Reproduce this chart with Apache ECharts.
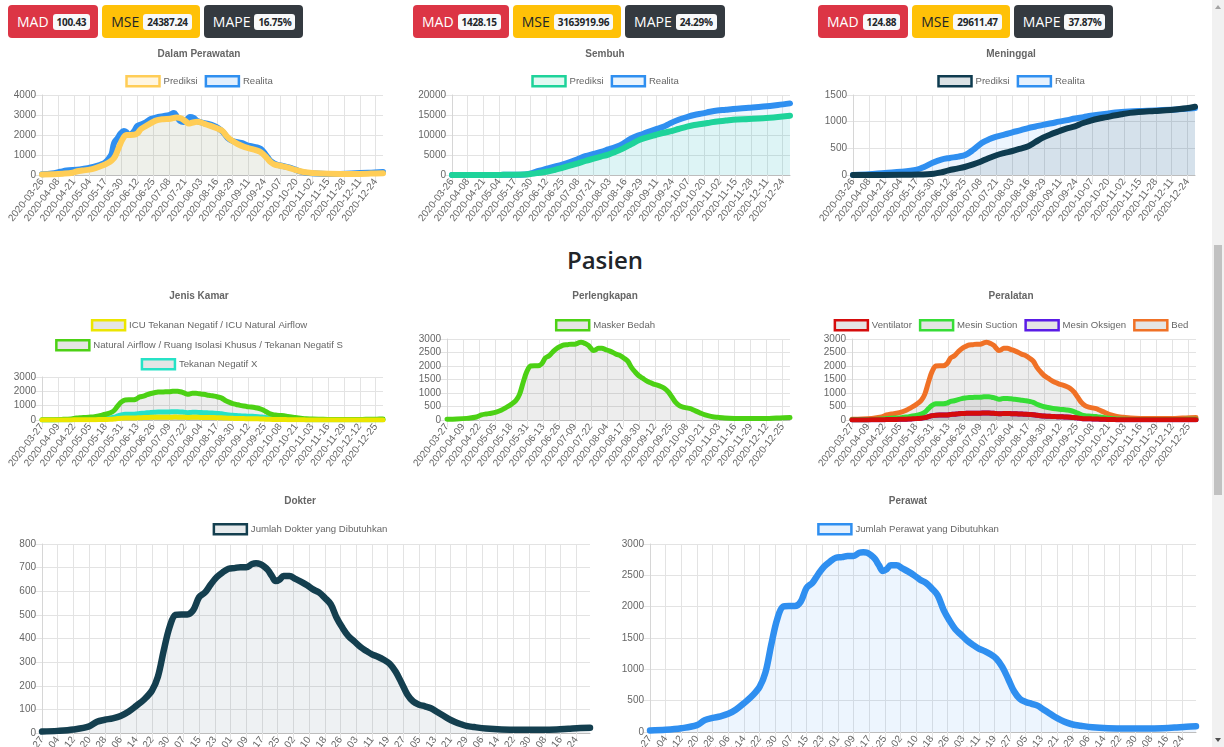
<!DOCTYPE html>
<html>
<head>
<meta charset="utf-8" />
<title>Prediksi Pasien</title>
<script src="https://cdn.jsdelivr.net/npm/echarts/dist/echarts.min.js"></script>
<style>
  body { margin: 0; width: 1224px; height: 747px; overflow: hidden; background: #fff; position: relative; font-family: "Open Sans", sans-serif; }
  .grp { position: absolute; top: 5px; display: flex; }
  .btn { height: 33px; box-sizing: border-box; padding: 0 8px 0 9px; margin-right: 4px; border-radius: 4px; display: flex; align-items: center; font-size: 14px; }
  .btn span { margin-left: 4px; background: #f8f9fa; color: #212529; font-weight: 700; font-size: 10px; line-height: 12px; padding: 2px 4px; border-radius: 3px; letter-spacing: -0.3px; }
  .red { background: #dc3545; color: #fff; }
  .yel { background: #ffc107; color: #212529; }
  .drk { background: #343a40; color: #fff; }
  .chart { position: absolute; }
  #judul { position: absolute; left: 0; top: 243px; width: 1210px; text-align: center; font-size: 24px; font-weight: 600; color: #212529; }
  #scroll { position: absolute; left: 1212px; top: 0; width: 12px; height: 747px; background: #f1f1f1; }
  #thumb { position: absolute; left: 2px; top: 245px; width: 8px; height: 250px; background: #c1c1c1; }
  .panah { position: absolute; left: 3px; width: 0; height: 0; border-left: 3px solid transparent; border-right: 3px solid transparent; }
</style>
</head>
<body>
<div class="grp" style="left:8px">
  <div class="btn red">MAD<span>100.43</span></div>
  <div class="btn yel">MSE<span>24387.24</span></div>
  <div class="btn drk">MAPE<span>16.75%</span></div>
</div>
<div class="grp" style="left:413px">
  <div class="btn red">MAD<span>1428.15</span></div>
  <div class="btn yel">MSE<span>3163919.96</span></div>
  <div class="btn drk">MAPE<span>24.29%</span></div>
</div>
<div class="grp" style="left:818px">
  <div class="btn red">MAD<span>124.88</span></div>
  <div class="btn yel">MSE<span>29611.47</span></div>
  <div class="btn drk">MAPE<span>37.87%</span></div>
</div>
<div id="judul">Pasien</div>

<div id="c1" class="chart" style="left:0px;top:44px;width:398px;height:200px"></div>
<div id="c2" class="chart" style="left:406px;top:44px;width:398px;height:200px"></div>
<div id="c3" class="chart" style="left:812px;top:44px;width:398px;height:200px"></div>
<div id="c4" class="chart" style="left:0px;top:285px;width:398px;height:200px"></div>
<div id="c5" class="chart" style="left:406px;top:285px;width:398px;height:200px"></div>
<div id="c6" class="chart" style="left:812px;top:285px;width:398px;height:200px"></div>
<div id="c7" class="chart" style="left:0px;top:490px;width:600px;height:320px"></div>
<div id="c8" class="chart" style="left:612px;top:490px;width:592px;height:320px"></div>
<div id="scroll">
  <div class="panah" style="top:5px;border-bottom:4px solid #a3a3a3"></div>
  <div id="thumb"></div>
  <div class="panah" style="top:738px;border-top:4px solid #505050"></div>
</div>

<script type="text/javascript">
  var F = "Liberation Sans, Arial, sans-serif";

  // hari ke- (indeks dari tanggal awal) untuk titik yang dibaca
  var hariRS = [0,8,16,24,28,32,36,40,44,48,52,56,59,62,65,68,71,74,77,80,83,86,89,92,95,98,101,104,107,109,111,113,115,117,119,121,123,126,129,132,135,138,141,144,147,150,153,156,159,162,165,168,171,174,177,180,183,186,189,192,195,198,201,204,207,210,213,216,220,226,234,244,254,262,268,274,279];

  var perawat = [25,35,60,110,190,225,250,290,360,460,570,720,950,1400,1800,2000,2010,2010,2080,2300,2380,2520,2640,2720,2780,2790,2810,2810,2860,2870,2860,2820,2760,2660,2570,2600,2660,2660,2610,2560,2500,2430,2380,2290,2180,1950,1780,1640,1550,1460,1390,1330,1290,1240,1170,1040,850,650,530,480,450,420,360,300,240,190,150,120,100,75,60,55,55,60,70,85,90];
  var dokter = [6,9,15,28,48,56,62,72,90,115,142,180,238,350,450,500,502,502,520,575,595,630,660,680,695,698,702,702,715,718,715,705,690,665,643,650,665,665,652,640,625,608,595,572,545,488,445,410,388,365,348,333,323,310,293,260,213,163,133,120,113,105,90,75,60,48,38,30,25,19,15,14,14,15,18,21,22];
  var maskerBedah = [25,35,60,110,190,225,250,290,360,460,570,720,950,1400,1800,2000,2010,2010,2080,2300,2380,2520,2640,2720,2780,2790,2810,2810,2860,2880,2860,2820,2760,2660,2570,2600,2660,2660,2610,2560,2500,2430,2380,2290,2180,1950,1780,1640,1550,1460,1390,1330,1290,1240,1170,1040,850,650,530,480,450,420,360,300,240,190,150,120,100,75,60,55,55,60,70,85,90];
  var bed = [25,35,60,110,190,225,250,290,360,460,570,720,950,1400,1800,2000,2010,2010,2080,2300,2380,2520,2640,2720,2780,2790,2810,2810,2860,2880,2860,2820,2760,2660,2570,2600,2660,2660,2610,2560,2500,2430,2380,2290,2180,1950,1780,1640,1550,1460,1390,1330,1290,1240,1170,1040,850,650,530,480,450,420,360,300,240,190,150,120,100,75,60,55,55,60,70,85,90];
  var mesinSuction = [8,10,18,33,57,68,75,87,108,138,171,216,285,420,540,600,603,603,624,690,714,756,792,816,834,837,843,843,858,861,858,846,828,798,771,780,798,798,783,768,750,729,714,687,654,585,534,492,465,438,417,399,387,372,351,312,255,195,159,144,135,126,108,90,72,57,45,36,30,23,18,17,17,18,21,26,27];
  var ventilator = [2,3,5,10,17,20,23,26,32,41,51,65,86,126,162,180,181,181,187,207,214,227,238,245,250,251,253,253,257,258,257,254,248,239,231,234,239,239,235,230,225,219,214,206,196,176,160,148,140,131,125,120,116,112,105,94,77,59,48,43,41,38,32,27,22,17,14,11,9,7,5,5,5,5,6,8,8];
  var mesinOksigen = [2,3,5,10,17,20,23,26,32,41,51,65,86,126,162,180,181,181,187,207,214,227,238,245,250,251,253,253,257,258,257,254,248,239,231,234,239,239,235,230,225,219,214,206,196,176,160,148,140,131,125,120,116,112,105,94,77,59,48,43,41,38,32,27,22,17,14,11,9,7,5,5,5,5,6,8,8];
  var naturalAirflow = [18,25,42,77,133,158,175,203,252,322,399,504,665,980,1260,1400,1407,1407,1456,1610,1666,1764,1848,1904,1946,1953,1967,1967,2002,2009,2002,1974,1932,1862,1799,1820,1862,1862,1827,1792,1750,1701,1666,1603,1526,1365,1246,1148,1085,1022,973,931,903,868,819,728,595,455,371,336,315,294,252,210,168,133,105,84,70,53,42,39,39,42,49,60,63];
  var tekananX = [5,7,12,22,38,45,50,58,72,92,114,144,190,280,360,400,402,402,416,460,476,504,528,544,556,558,562,562,572,574,572,564,552,532,514,520,532,532,522,512,500,486,476,458,436,390,356,328,310,292,278,266,258,248,234,208,170,130,106,96,90,84,72,60,48,38,30,24,20,15,12,11,11,12,14,17,18];
  var icu = [2,2,4,8,13,16,18,20,25,32,40,50,67,98,126,140,141,141,146,161,167,176,185,190,195,195,197,197,200,201,200,197,193,186,180,182,186,186,183,179,175,170,167,160,153,137,125,115,109,102,97,93,90,87,82,73,60,46,37,34,32,29,25,21,17,13,11,8,7,5,4,4,4,4,5,6,6];

  // [hari ke-, nilai]
  var dalamPrediksi = [[0,30],[9,40],[17,65],[25,115],[29,190],[33,225],[41,290],[49,460],[53,570],[57,720],[60,950],[63,1400],[66,1800],[69,2000],[75,2010],[78,2080],[81,2300],[87,2520],[93,2720],[99,2790],[105,2810],[110,2870],[114,2820],[118,2660],[120,2570],[122,2600],[127,2660],[133,2560],[139,2430],[145,2290],[148,2180],[151,1950],[154,1780],[160,1550],[166,1390],[172,1290],[178,1170],[181,1040],[184,850],[187,650],[190,530],[196,450],[202,360],[208,240],[214,150],[221,100],[235,60],[255,55],[269,70],[279,90]];
  var dalamRealita = [[0,40],[8,80],[15,160],[20,220],[31,280],[42,400],[51,600],[55,850],[57,1050],[59,1600],[62,1850],[64,2050],[67,2200],[69,2150],[71,2000],[74,2100],[76,2250],[78,2450],[84,2600],[89,2800],[95,2900],[100,2950],[104,3000],[108,3100],[110,2950],[113,2700],[116,2650],[119,2800],[121,2900],[124,2850],[127,2700],[132,2600],[136,2550],[141,2450],[144,2350],[148,2150],[152,1850],[156,1700],[163,1600],[170,1450],[176,1380],[179,1300],[182,1100],[185,850],[188,650],[192,520],[197,450],[204,350],[210,200],[215,120],[223,80],[240,50],[253,80],[267,110],[279,150]];
  var sembuhPrediksi = [[0,0],[40,30],[60,120],[66,300],[72,550],[78,800],[85,1300],[91,1800],[98,2400],[104,2900],[110,3500],[117,4100],[123,4600],[129,5100],[135,5800],[141,6600],[148,7700],[155,8800],[161,9400],[168,10000],[174,10500],[180,10900],[187,11500],[194,12100],[200,12500],[207,12800],[213,13100],[219,13400],[226,13600],[232,13800],[245,14000],[257,14200],[269,14500],[279,14800]];
  var sembuhRealita = [[0,0],[40,30],[60,150],[65,400],[70,900],[75,1300],[80,1700],[86,2200],[91,2600],[98,3300],[104,4000],[110,4700],[117,5300],[123,5800],[129,6400],[135,7000],[141,7800],[147,9000],[152,9700],[158,10300],[164,11000],[170,11600],[175,12100],[180,12900],[187,13800],[194,14500],[200,15000],[207,15400],[213,15800],[219,16100],[226,16300],[232,16500],[245,16800],[257,17100],[269,17500],[279,17900]];
  var meninggalPrediksi = [[0,0],[40,3],[53,8],[66,25],[72,50],[78,87],[85,120],[91,150],[98,200],[104,250],[110,310],[117,370],[123,410],[130,450],[136,490],[143,540],[149,620],[155,700],[161,760],[168,820],[174,870],[181,910],[187,970],[194,1020],[200,1055],[207,1085],[213,1115],[219,1140],[226,1165],[233,1180],[246,1200],[259,1220],[272,1250],[279,1280]];
  var meninggalRealita = [[0,0],[13,12],[26,40],[39,60],[52,100],[58,150],[65,230],[72,290],[79,320],[86,345],[92,380],[98,470],[105,600],[111,670],[117,720],[124,760],[130,800],[137,840],[143,880],[149,910],[155,940],[162,970],[168,1000],[175,1030],[181,1060],[188,1085],[194,1110],[207,1150],[219,1180],[233,1200],[246,1210],[259,1225],[272,1240],[279,1255]];

  function tanggal(awal, n) {
    var out = [], d = new Date(awal + "T00:00:00Z");
    for (var i = 0; i < n; i++) { out.push(d.toISOString().slice(0, 10)); d.setUTCDate(d.getUTCDate() + 1); }
    return out;
  }
  function pasang(vals) { return hariRS.map(function (h, i) { return [h, vals[i]]; }); }

  var tglA = tanggal("2020-03-26", 280);
  var tglB = tanggal("2020-03-27", 280);

  function gambar(id, o) {
    var chart = echarts.init(document.getElementById(id));
    var legends = o.rows.map(function (row, r) {
      return {
        top: o.legendTop[r], left: "center", padding: 0, itemWidth: 33, itemHeight: 10, itemGap: 7,
        icon: "rect", selectedMode: false,
        textStyle: { color: "#666", fontSize: 9.6, fontFamily: F, padding: [0, 0, 0, -1] },
        data: row.map(function (nm) {
          var s = o.series.filter(function (x) { return x.name === nm; })[0];
          return { name: nm, icon: "rect", itemStyle: { color: s.fill, borderColor: s.color, borderWidth: 2.5 } };
        })
      };
    });
    var series = o.series.slice().reverse().map(function (s) {
      return {
        name: s.name, type: "line", data: s.data, smooth: 0.35, symbol: "none", silent: true,
        lineStyle: { color: s.color, width: o.lw, cap: "round", join: "round" },
        itemStyle: { color: s.color },
        areaStyle: { color: s.fill }
      };
    });
    chart.setOption({
      animation: false,
      title: { text: o.title, left: "center", top: o.titleTop, padding: 0,
        textStyle: { color: "#666", fontSize: 10, fontWeight: "bold", fontFamily: F } },
      legend: legends,
      grid: o.grid,
      xAxis: {
        type: "category", data: o.cats, boundaryGap: false,
        axisLine: { lineStyle: { color: "#bdbdbd" } },
        axisTick: { show: true, interval: o.interval, length: 7, lineStyle: { color: "#e3e3e3" } },
        axisLabel: { interval: o.interval, rotate: 52, color: "#666", fontSize: 10, fontFamily: F, margin: 5 },
        splitLine: { show: true, interval: o.interval, lineStyle: { color: "#e3e3e3" } }
      },
      yAxis: {
        type: "value", min: 0, max: o.max, interval: o.step,
        axisLine: { show: true, lineStyle: { color: "#d6d6d6" } },
        axisTick: { show: true, length: 7, lineStyle: { color: "#e3e3e3" } },
        axisLabel: { color: "#666", fontSize: 10, fontFamily: F, margin: 6, formatter: function (v) { return String(v); } },
        splitLine: { lineStyle: { color: "#e3e3e3" } }
      },
      series: series
    });
  }

  var gridKecil = function (left, right, top, h) { return { left: left, right: right, top: top, height: h }; };

  gambar("c1", {
    title: "Dalam Perawatan", titleTop: 5, rows: [["Prediksi", "Realita"]], legendTop: [31],
    cats: tglA, interval: 12, max: 4000, step: 1000, lw: 6, grid: gridKecil(42, 15, 51, 80),
    series: [
      { name: "Prediksi", data: dalamPrediksi, color: "#ffcd56", fill: "rgba(255,205,86,0.18)" },
      { name: "Realita", data: dalamRealita, color: "#2f8ff0", fill: "rgba(47,143,240,0.14)" }
    ]
  });
  gambar("c2", {
    title: "Sembuh", titleTop: 5, rows: [["Prediksi", "Realita"]], legendTop: [31],
    cats: tglA, interval: 12, max: 20000, step: 5000, lw: 6, grid: gridKecil(46, 14, 51, 80),
    series: [
      { name: "Prediksi", data: sembuhPrediksi, color: "#1ed39a", fill: "rgba(30,211,154,0.13)" },
      { name: "Realita", data: sembuhRealita, color: "#2f8ff0", fill: "rgba(47,143,240,0.1)" }
    ]
  });
  gambar("c3", {
    title: "Meninggal", titleTop: 5, rows: [["Prediksi", "Realita"]], legendTop: [31],
    cats: tglA, interval: 12, max: 1500, step: 500, lw: 6, grid: gridKecil(41, 15, 51, 80),
    series: [
      { name: "Prediksi", data: meninggalPrediksi, color: "#0e3b4f", fill: "rgba(14,59,79,0.15)" },
      { name: "Realita", data: meninggalRealita, color: "#2f8ff0", fill: "rgba(47,143,240,0.12)" }
    ]
  });
  gambar("c4", {
    title: "Jenis Kamar", titleTop: 6,
    rows: [["ICU Tekanan Negatif / ICU Natural Airflow"], ["Natural Airflow / Ruang Isolasi Khusus / Tekanan Negatif S"], ["Tekanan Negatif X"]],
    legendTop: [34, 54, 73],
    cats: tglB, interval: 12, max: 3000, step: 1000, lw: 5, grid: gridKecil(42, 15, 92, 43),
    series: [
      { name: "ICU Tekanan Negatif / ICU Natural Airflow", data: pasang(icu), color: "#ece500", fill: "rgba(0,0,0,0.1)" },
      { name: "Natural Airflow / Ruang Isolasi Khusus / Tekanan Negatif S", data: pasang(naturalAirflow), color: "#4cd114", fill: "rgba(0,0,0,0.1)" },
      { name: "Tekanan Negatif X", data: pasang(tekananX), color: "#26e2c6", fill: "rgba(0,0,0,0.1)" }
    ]
  });
  gambar("c5", {
    title: "Perlengkapan", titleTop: 6, rows: [["Masker Bedah"]], legendTop: [34],
    cats: tglB, interval: 12, max: 3000, step: 500, lw: 5, grid: gridKecil(41, 14, 54, 81),
    series: [
      { name: "Masker Bedah", data: pasang(maskerBedah), color: "#4cd114", fill: "rgba(0,0,0,0.1)" }
    ]
  });
  gambar("c6", {
    title: "Peralatan", titleTop: 6, rows: [["Ventilator", "Mesin Suction", "Mesin Oksigen", "Bed"]], legendTop: [34],
    cats: tglB, interval: 12, max: 3000, step: 500, lw: 5, grid: gridKecil(40, 14, 54, 81),
    series: [
      { name: "Ventilator", data: pasang(ventilator), color: "#d50c0c", fill: "rgba(0,0,0,0.1)" },
      { name: "Mesin Suction", data: pasang(mesinSuction), color: "#36dd36", fill: "rgba(0,0,0,0.1)" },
      { name: "Mesin Oksigen", data: pasang(mesinOksigen), color: "#5a1ce6", fill: "rgba(0,0,0,0.1)" },
      { name: "Bed", data: pasang(bed), color: "#f07126", fill: "rgba(0,0,0,0.1)" }
    ]
  });
  gambar("c7", {
    title: "Dokter", titleTop: 6, rows: [["Jumlah Dokter yang Dibutuhkan"]], legendTop: [33],
    cats: tglB, interval: 7, max: 800, step: 100, lw: 6.5, grid: gridKecil(42, 10, 54, 189),
    series: [
      { name: "Jumlah Dokter yang Dibutuhkan", data: pasang(dokter), color: "#143f4f", fill: "rgba(20,63,79,0.1)" }
    ]
  });
  gambar("c8", {
    title: "Perawat", titleTop: 6, rows: [["Jumlah Perawat yang Dibutuhkan"]], legendTop: [33],
    cats: tglB, interval: 7, max: 3000, step: 500, lw: 6.5, grid: gridKecil(38, 8, 54, 188),
    series: [
      { name: "Jumlah Perawat yang Dibutuhkan", data: pasang(perawat), color: "#2f8ff0", fill: "rgba(47,143,240,0.12)" }
    ]
  });
</script>
</body>
</html>
